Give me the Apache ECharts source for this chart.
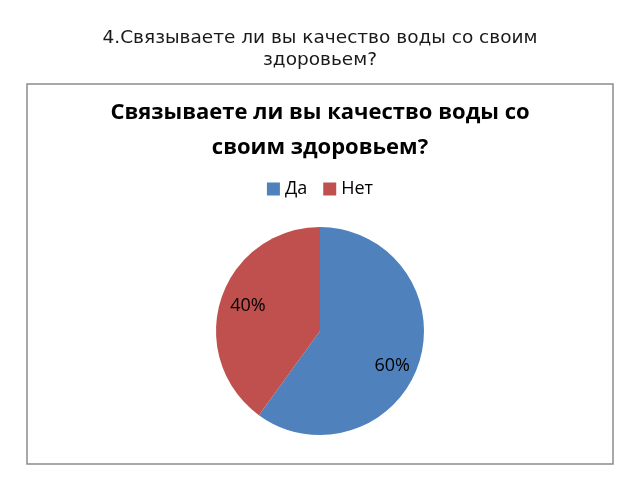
<!DOCTYPE html>
<html><head><meta charset="utf-8">
<script src="https://cdn.jsdelivr.net/npm/echarts@6/dist/echarts.min.js"></script>
<style>html,body{margin:0;padding:0;background:#fff}#c{width:640px;height:480px}</style>
</head><body><div id="c"></div>
<script>
var pageTitle = '4.Связываете ли вы качество воды со своим\nздоровьем?';
var chartTitle = 'Связываете ли вы качество воды со\nсвоим здоровьем?';
var categories = ['Да', 'Нет'];
var values = [60, 40];
var colors = ['#4F81BD', '#C0504D'];

var data = categories.map(function (c, i) { return { name: c, value: values[i] }; });
var labelData = categories.map(function (c, i) {
  var d = { name: c + ' ', value: values[i] };
  if (i === 0) d.label = { offset: [-3, 10] };
  else d.label = { offset: [3, -1] };
  return d;
});
var chart = echarts.init(document.getElementById('c'));
chart.setOption({
  backgroundColor: '#fff',
  color: colors,
  graphic: [{
    type: 'rect', shape: { x: 27, y: 84, width: 586, height: 380 },
    style: { fill: 'none', stroke: '#8c8c8c', lineWidth: 1.5 }, z: -1
  }],
  title: [{
    text: pageTitle, left: 'center', top: 22,
    textStyle: { fontFamily: 'DejaVu Sans', fontSize: 18.5, fontWeight: 'normal', color: '#1a1a1a', lineHeight: 22 }
  }, {
    text: chartTitle, left: 'center', top: 90,
    textStyle: { fontFamily: 'Open Sans', fontSize: 22, fontWeight: 'bold', color: '#000', lineHeight: 35 }
  }],
  legend: {
    top: 175, left: 'center', itemWidth: 13, itemHeight: 13, itemGap: 16,
    icon: 'rect',
    textStyle: { fontFamily: 'Open Sans', fontSize: 18, color: '#000' },
    data: categories
  },
  series: [{
    type: 'pie', center: [320, 331], radius: [0, 104], startAngle: 90, clockwise: true,
    label: { show: false }, labelLine: { show: false }, silent: true,
    itemStyle: { borderWidth: 0 },
    data: data
  }, {
    type: 'pie', center: [320, 331], radius: [48, 104], startAngle: 90, clockwise: true,
    silent: true, legendHoverLink: false,
    itemStyle: { color: 'rgba(0,0,0,0)', borderWidth: 0 },
    label: { show: true, position: 'inside', formatter: '{c}%', fontFamily: 'Open Sans', fontSize: 18, color: '#000' },
    labelLine: { show: false },
    data: labelData
  }]
});
</script></body></html>
